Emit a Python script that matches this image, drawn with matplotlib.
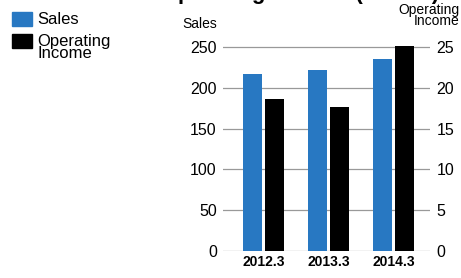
import numpy as np
from matplotlib import pyplot as plt

plt.rcParams['font.family'] = ['Liberation Sans', 'DejaVu Sans']

years = ['2012.3', '2013.3', '2014.3']
sales = [217, 222, 236]              # left axis
op_income = [18.6, 17.6, 25.2]       # right axis
sales_ticks = [0, 50, 100, 150, 200, 250]
op_ticks = [0, 5, 10, 15, 20, 25]

blue = '#2878c2'
W, H = 461, 278

fig = plt.figure(figsize=(W / 100, H / 100), dpi=100)
ax = fig.add_axes([223 / W, 1 - 251 / H, 207 / W, 212 / H])
ax2 = ax.twinx()

x = np.arange(len(years))
bw = 0.285
ax.bar(x - 0.17, sales, bw, color=blue, zorder=3)
ax2.bar(x + 0.17, op_income, bw, color='black', zorder=3)

ax.set_xlim(-0.62, 2.56)
ax.set_ylim(0, 260)
ax2.set_ylim(0, 26)
ax.set_yticks(sales_ticks)
ax2.set_yticks(op_ticks)
ax.set_xticks(x)
ax.set_xticklabels(years, fontweight='bold', fontsize=10)
ax.grid(axis='y', color='#999999', linewidth=0.9)
ax.set_axisbelow(True)

for a in (ax, ax2):
    for s in a.spines.values():
        s.set_visible(False)
    a.tick_params(length=0, labelsize=11.5, pad=4.5)
ax.tick_params(axis='x', pad=3, labelsize=10)

# axis titles
fig.text(217 / W, 1 - 31 / H, 'Sales', ha='right', va='bottom', fontsize=10)
fig.text(459 / W, 1 - 28 / H, 'Operating\nIncome', ha='right', va='bottom',
         fontsize=10, linespacing=0.75)

# legend
fig.patches.append(plt.Rectangle((12 / W, 1 - 26 / H), 20 / W, 14 / H,
                                 color=blue, transform=fig.transFigure))
fig.patches.append(plt.Rectangle((12 / W, 1 - 48 / H), 20 / W, 14 / H,
                                 color='black', transform=fig.transFigure))
fig.text(37 / W, 1 - 19 / H, 'Sales', va='center', fontsize=12)
fig.text(37 / W, 1 - 34 / H, 'Operating\nIncome', va='top', fontsize=12,
         linespacing=0.75)

# title, cut off at the top of the picture (only descenders show)
fig.text(245 / W, 1 + 1 / H, 'Sales and Operating Income (¥100m)',
         ha='center', va='baseline', fontsize=16, fontweight='bold')

fig.savefig('out.png', dpi=100)
